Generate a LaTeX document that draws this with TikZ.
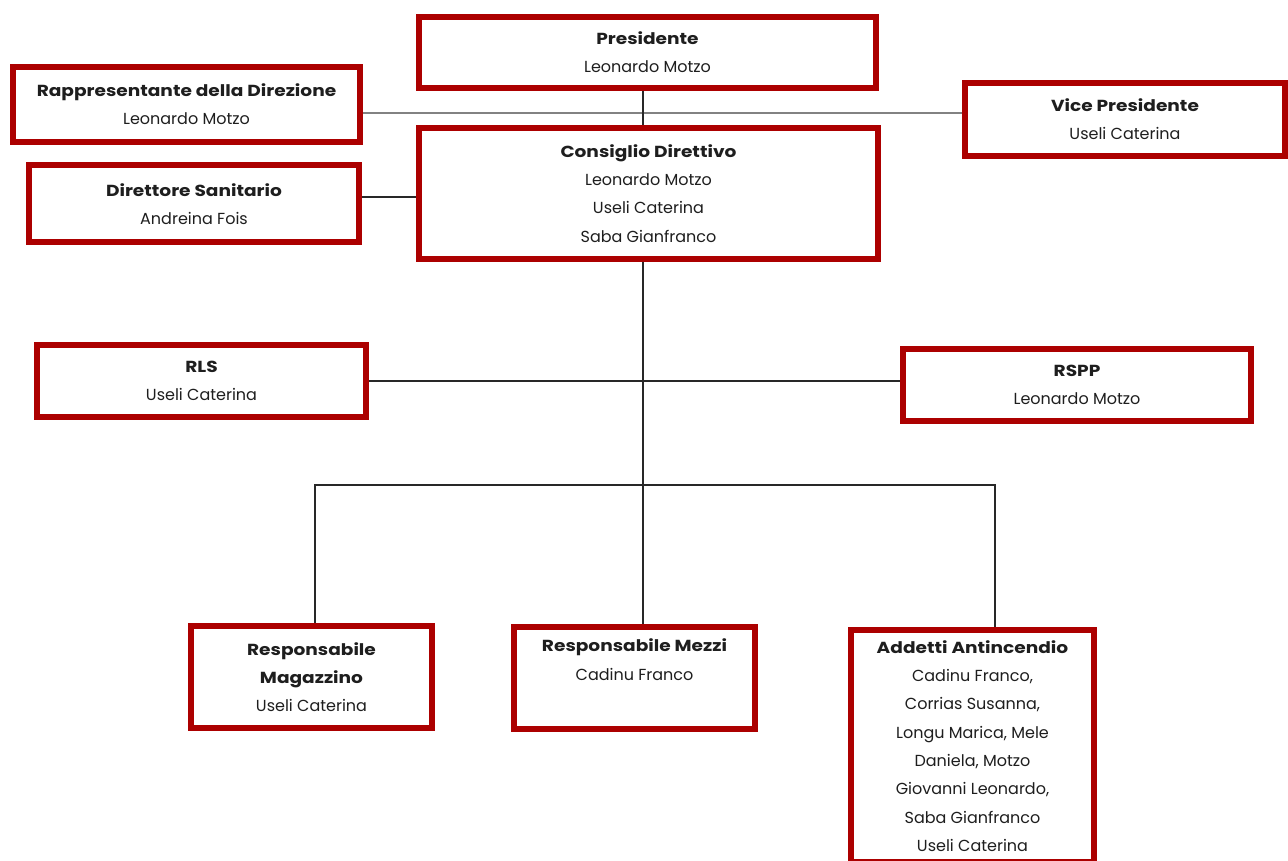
\documentclass[tikz,border=0pt]{standalone}
\usepackage{fontspec}
\setmainfont{Poppins}[BoldFeatures={FakeStretch=1.16}]
\definecolor{boxred}{RGB}{172,0,0}
\definecolor{txt}{RGB}{30,30,30}
\definecolor{lineblk}{RGB}{40,40,40}
\definecolor{linegray}{RGB}{130,130,130}
\begin{document}
\begin{tikzpicture}[x=1pt,y=-1pt,
  org/.style={draw=boxred, line width=6pt, fill=white, rectangle, inner sep=0pt,
    align=center, text=txt, font=\fontsize{16}{28.3}\selectfont},
  conn/.style={draw=lineblk, line width=1.3pt},
  conng/.style={draw=linegray, line width=1.3pt}]
\useasboundingbox[fill=white] (0,0) rectangle (1288,861);
% coordinates for connector levels
\coordinate (spine) at (643,0);
\coordinate (topline) at (0,113);
\coordinate (dirline) at (0,197);
\coordinate (bus) at (0,485);
\coordinate (magx) at (315,0);
\coordinate (addx) at (995,0);
\node[org, minimum width=457, minimum height=71] (pres) at (647.5,52.5) {\textbf{Presidente}\\Leonardo Motzo};
\node[org, minimum width=347, minimum height=75] (rapp) at (186.5,104.5) {\textbf{Rappresentante della Direzione}\\Leonardo Motzo};
\node[org, minimum width=320, minimum height=73] (vice) at (1125,119.5) {\textbf{Vice Presidente}\\Useli Caterina};
\node[org, minimum width=459, minimum height=131] (cons) at (648.5,193.5) {\textbf{Consiglio Direttivo}\\Leonardo Motzo\\Useli Caterina\\Saba Gianfranco};
\node[org, minimum width=330, minimum height=77] (dir) at (194,204) {\textbf{Direttore Sanitario}\\Andreina Fois};
\node[org, minimum width=329, minimum height=72] (rls) at (201.5,381) {\textbf{RLS}\\Useli Caterina};
\node[org, minimum width=348, minimum height=72] (rspp) at (1077,385) {\textbf{RSPP}\\Leonardo Motzo};
\node[org, minimum width=241, minimum height=102] (mag) at (311.5,677) {\textbf{Responsabile}\\\textbf{Magazzino}\\Useli Caterina};
\node[org, minimum width=241, minimum height=102] (mez) at (634.5,678) {\textbf{Responsabile Mezzi}\\Cadinu Franco\\\strut};
\node[org, minimum width=243, minimum height=232] (add) at (972.5,746) {\textbf{Addetti Antincendio}\\Cadinu Franco,\\Corrias Susanna,\\Longu Marica, Mele\\Daniela, Motzo\\Giovanni Leonardo,\\Saba Gianfranco\\Useli Caterina};
\draw[conng] (rapp.east |- topline) -- (vice.west |- topline);
\draw[conn] (pres.south -| spine) -- (cons.north -| spine);
\draw[conn] (dir.east |- dirline) -- (cons.west |- dirline);
\draw[conn] (cons.south -| spine) -- (mez.north -| spine);
\draw[conn] (rls.east) -- (rls.east -| rspp.west);
\draw[conn] (mag.north -| magx) -- (magx |- bus) -- (addx |- bus) -- (add.north -| addx);
\end{tikzpicture}
\end{document}
